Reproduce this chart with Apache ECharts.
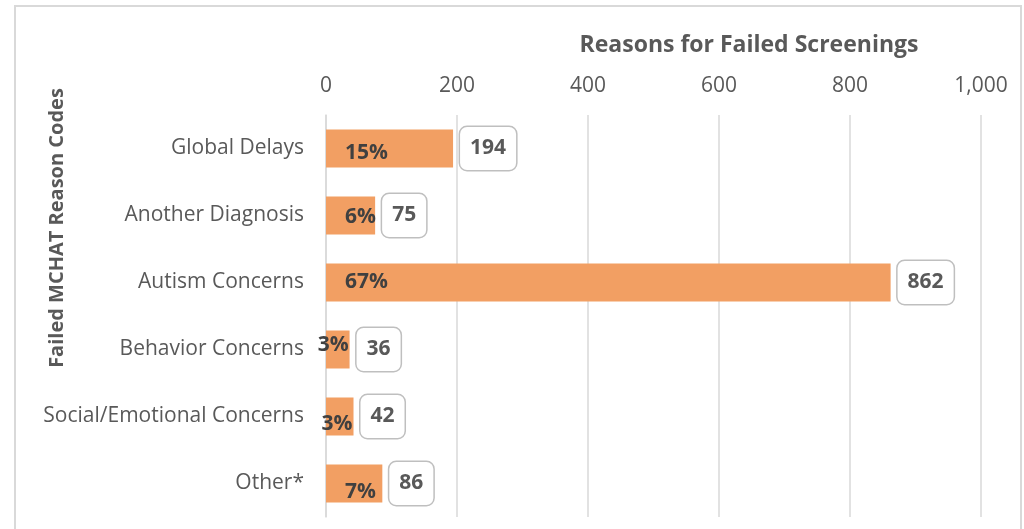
<!DOCTYPE html>
<html>
<head>
<meta charset="utf-8">
<script src="https://cdn.jsdelivr.net/npm/echarts@6/dist/echarts.min.js"></script>
<style>
  html, body { margin: 0; padding: 0; background: #fff; }
  #main { width: 1024px; height: 529px; }
</style>
</head>
<body>
<div id="main"></div>
<script>
var categories = ['Global Delays', 'Another Diagnosis', 'Autism Concerns', 'Behavior Concerns', 'Social/Emotional Concerns', 'Other*'];
var counts = [194, 75, 862, 36, 42, 86];
var percents = ['15%', '6%', '67%', '3%', '3%', '7%'];
var xTicks = [0, 200, 400, 600, 800, 1000];

// vertical nudge of the percent labels, as in the original
var labelDy = [5, 2, 0, -4, 8, 9];

var chart = echarts.init(document.getElementById('main'));
var font = '"Open Sans", sans-serif';

var pctData = counts.map(function(v, i) {
    var small = v < 60;
    return {
        value: v,
        label: {
            position: small ? 'insideRight' : 'insideLeft',
            offset: small ? [4, labelDy[i]] : [14, labelDy[i]]
        }
    };
});

var option = {
    animation: false,
    grid: { left: 326, right: 43, top: 115, bottom: 12 },
    graphic: [
        {
            type: 'rect',
            shape: { x: 15, y: 6, width: 1006, height: 530 },
            style: { fill: 'none', stroke: '#d9d9d9', lineWidth: 2 }
        },
        {
            type: 'text',
            x: 749, y: 45,
            style: {
                text: 'Reasons for Failed Screenings',
                font: 'bold 23px ' + font,
                fill: '#595959',
                align: 'center',
                verticalAlign: 'middle'
            }
        },
        {
            type: 'text',
            x: 57, y: 228,
            rotation: Math.PI / 2,
            style: {
                text: 'Failed MCHAT Reason Codes',
                font: 'bold 20px ' + font,
                fill: '#595959',
                align: 'center',
                verticalAlign: 'middle'
            }
        }
    ],
    xAxis: {
        type: 'value',
        position: 'top',
        min: 0,
        max: 1000,
        interval: 200,
        axisLine: { show: false },
        axisTick: { show: false },
        splitLine: { lineStyle: { color: '#d9d9d9', width: 1.5 } },
        axisLabel: {
            margin: 18,
            color: '#595959',
            fontFamily: font,
            fontSize: 21,
            formatter: function(v) {
                return xTicks.indexOf(v) >= 0 ? v.toLocaleString('en-US') : '';
            }
        }
    },
    yAxis: {
        type: 'category',
        inverse: true,
        data: categories,
        axisLine: { show: true, lineStyle: { color: '#d9d9d9', width: 1.5 } },
        axisTick: { show: false },
        axisLabel: {
            margin: 22,
            color: '#595959',
            fontFamily: font,
            fontSize: 21
        }
    },
    series: [
        {
            type: 'bar',
            data: pctData,
            barWidth: 38,
            itemStyle: { color: '#f29f63' },
            label: {
                show: true,
                color: '#404040',
                fontFamily: font,
                fontWeight: 'bold',
                fontSize: 21,
                formatter: function(p) { return percents[p.dataIndex]; }
            },
            z: 2
        },
        {
            type: 'bar',
            data: counts,
            barWidth: 38,
            barGap: '-100%',
            itemStyle: { color: 'rgba(0,0,0,0)' },
            label: {
                show: true,
                position: 'right',
                distance: 7,
                color: '#595959',
                fontFamily: font,
                fontWeight: 'bold',
                fontSize: 21,
                backgroundColor: '#fff',
                borderColor: '#bfbfbf',
                borderWidth: 1.5,
                borderRadius: 7,
                padding: [11, 10],
                formatter: '{c}'
            },
            z: 3
        }
    ]
};

chart.setOption(option);
</script>
</body>
</html>
